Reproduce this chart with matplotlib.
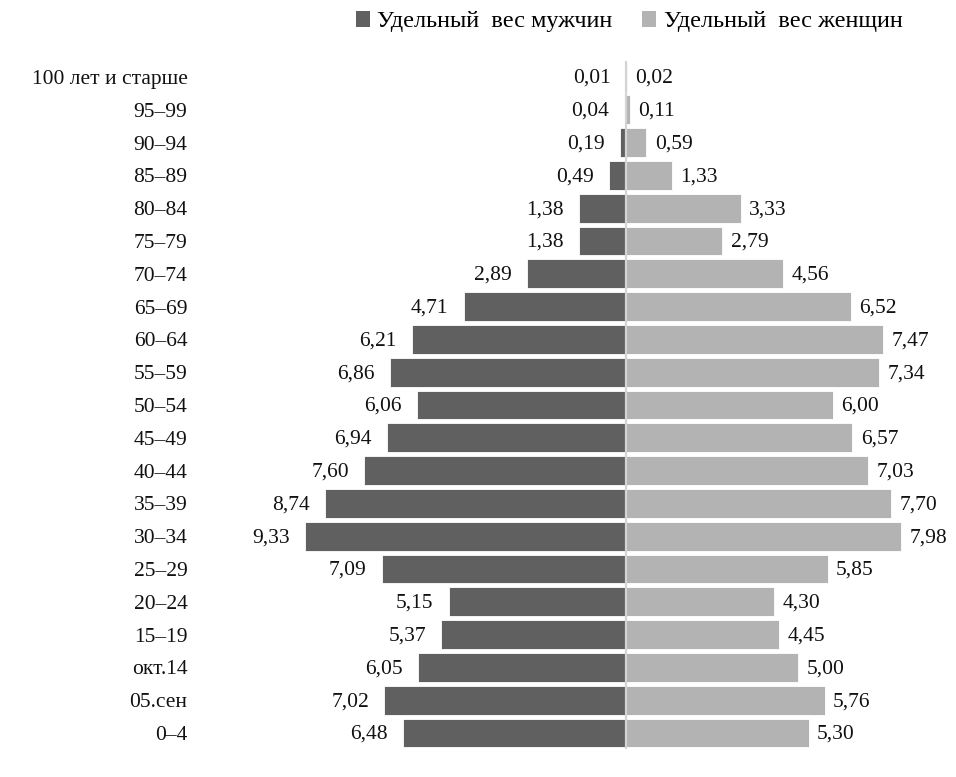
import matplotlib
matplotlib.use("Agg")
import matplotlib.pyplot as plt

plt.rcParams['font.family'] = ['Liberation Serif', 'DejaVu Serif']

categories = ["0–4", "05.сен", "окт.14", "15–19", "20–24", "25–29", "30–34", "35–39",
              "40–44", "45–49", "50–54", "55–59", "60–64", "65–69", "70–74", "75–79",
              "80–84", "85–89", "90–94", "95–99", "100 лет и старше"]
men = [6.48, 7.02, 6.05, 5.37, 5.15, 7.09, 9.33, 8.74, 7.60, 6.94, 6.06, 6.86, 6.21,
       4.71, 2.89, 1.38, 1.38, 0.49, 0.19, 0.04, 0.01]
women = [5.30, 5.76, 5.00, 4.45, 4.30, 5.85, 7.98, 7.70, 7.03, 6.57, 6.00, 7.34, 7.47,
         6.52, 4.56, 2.79, 3.33, 1.33, 0.59, 0.11, 0.02]
legend_labels = ["Удельный  вес мужчин", "Удельный  вес женщин"]

c_men = "#606060"
c_women = "#b3b3b3"
FS = 15.5

fig = plt.figure(figsize=(9.56, 7.77), dpi=100)
ax = fig.add_axes([0.2092, 0.0355, 0.7845, 0.8865])

y = list(range(len(categories)))
ax.barh(y, [-m for m in men], height=0.88, color=c_men, edgecolor="white", linewidth=0.6)
ax.barh(y, women, height=0.88, color=c_women, edgecolor="white", linewidth=0.6)
ax.axvline(0, color="#d4d4d4", linewidth=1.6)

fmt = lambda v: f"{v:.2f}".replace(".", ",")
for yi, m, w in zip(y, men, women):
    ax.annotate(fmt(m), xy=(-m, yi), xytext=(-11, -1), textcoords="offset points",
                ha="right", va="center", fontsize=FS, color="#111111")
    ax.annotate(fmt(w), xy=(w, yi), xytext=(6, -1), textcoords="offset points",
                ha="left", va="center", fontsize=FS, color="#111111")

ax.set_xlim(-12.37, 9.4)
ax.set_ylim(-0.5, len(categories) - 0.5)
ax.set_yticks(y)
ax.set_yticklabels(categories, fontsize=FS, color="#111111")
ax.tick_params(axis="y", length=0, pad=9)
ax.set_xticks([])
for s in ax.spines.values():
    s.set_visible(False)

from matplotlib.patches import Patch
handles = [Patch(facecolor=c_men, edgecolor="none"), Patch(facecolor=c_women, edgecolor="none")]
fig.legend(handles, legend_labels, loc="center", bbox_to_anchor=(0.658, 0.972), ncol=2,
           frameon=False, fontsize=17.5, handlelength=0.6, handleheight=0.6,
           handletextpad=0.3, columnspacing=1.2)

fig.savefig("out.png", dpi=100, facecolor="white")
